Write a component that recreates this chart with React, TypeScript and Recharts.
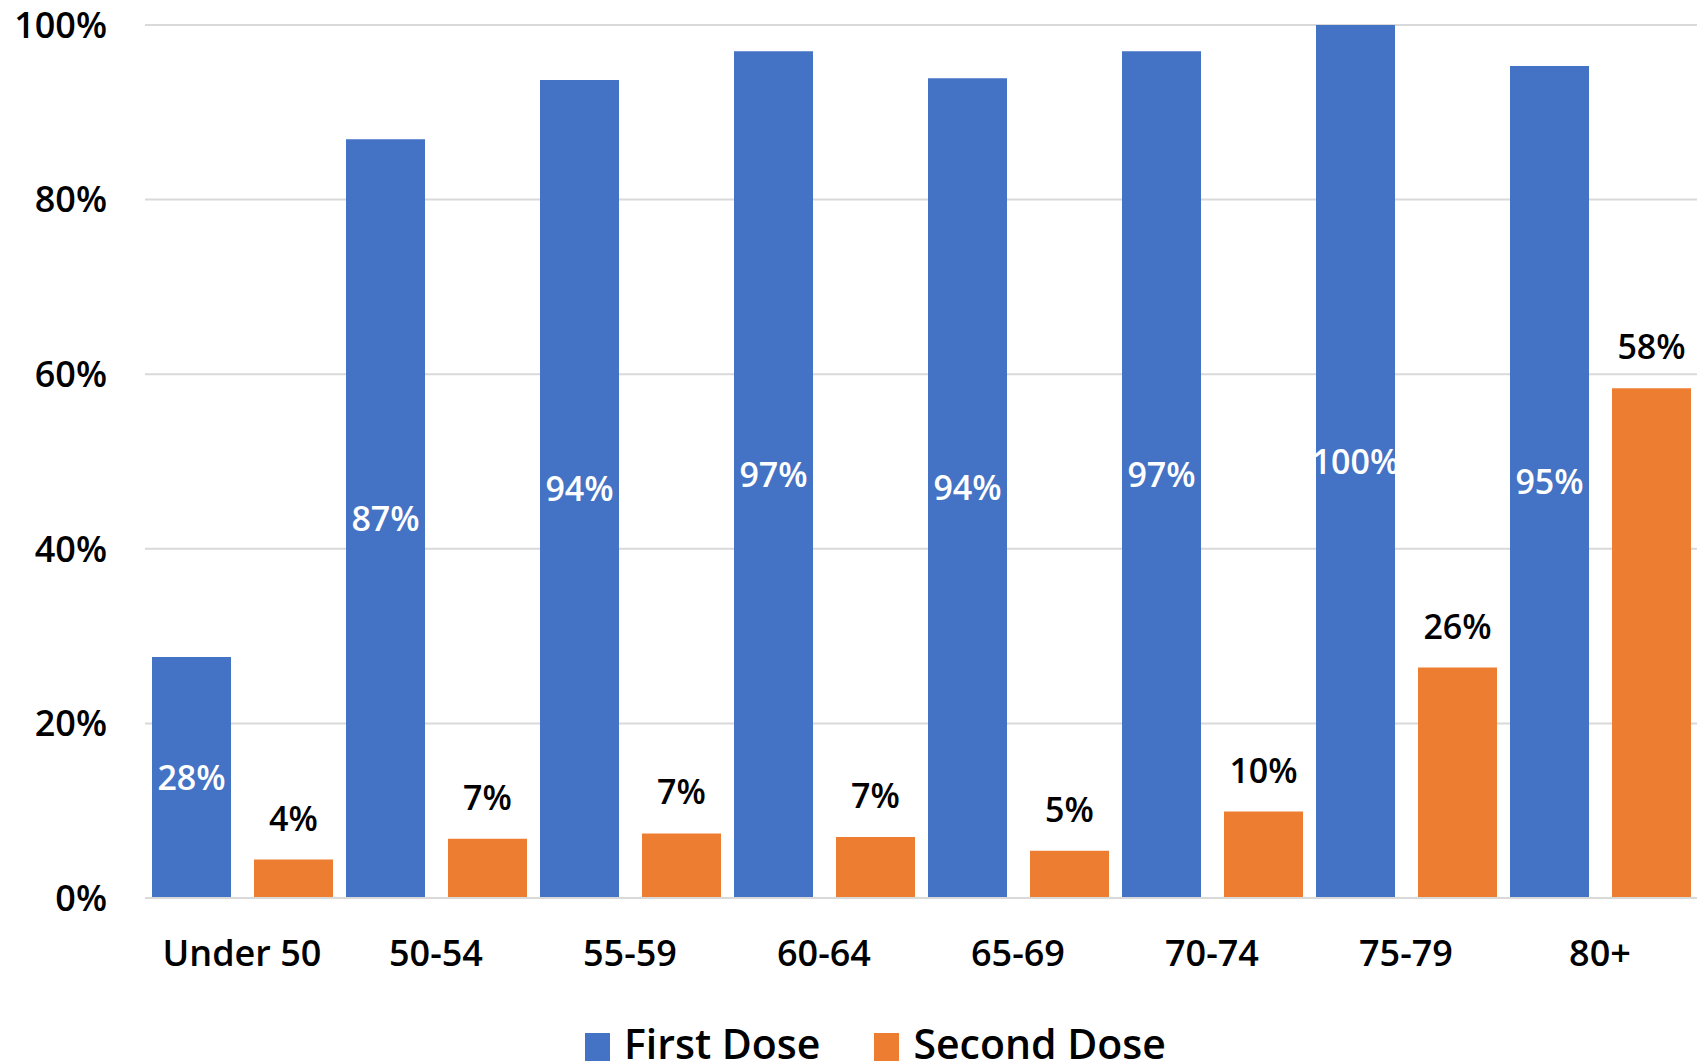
import React from 'react';
import { BarChart, Bar, XAxis, YAxis, CartesianGrid, Legend, LabelList } from 'recharts';

const groups = ['Under 50', '50-54', '55-59', '60-64', '65-69', '70-74', '75-79', '80+'];
const firstDose = [27.6, 86.9, 93.7, 97.0, 93.9, 97.0, 100, 95.3];
const secondDose = [4.4, 6.8, 7.4, 7.0, 5.4, 9.9, 26.4, 58.4];
const yTicks = [0, 20, 40, 60, 80, 100];

const BLUE = '#4472C4';
const ORANGE = '#ED7D31';
const FONT = '"Open Sans", "Noto Sans", sans-serif';

const data = groups.map((group, i) => ({
  group,
  first: firstDose[i],
  second: secondDose[i],
}));

const pct = (v: any) => `${Math.round(Number(v))}%`;

const LegendBox = () => (
  <div
    style={{
      display: 'flex',
      alignItems: 'flex-end',
      height: 66,
      paddingLeft: 585,
      boxSizing: 'border-box',
      fontFamily: FONT,
      fontSize: 41,
      fontWeight: 600,
      color: '#000',
      lineHeight: 1,
    }}
  >
    {[
      { name: 'First Dose', color: BLUE },
      { name: 'Second Dose', color: ORANGE },
    ].map((item) => (
      <div key={item.name} style={{ display: 'flex', alignItems: 'flex-end', marginRight: 54 }}>
        <span
          style={{
            display: 'inline-block',
            width: 25,
            height: 28,
            background: item.color,
            marginRight: 14,
            marginBottom: 3,
          }}
        />
        <span>{item.name}</span>
      </div>
    ))}
  </div>
);

export default function App() {
  return (
    <div style={{ position: 'absolute', left: 0, top: 0 }}>
      <BarChart
        width={1704}
        height={1064}
        data={data}
        margin={{ top: 25, right: 7, left: 0, bottom: 0 }}
        barSize={79}
        barGap={23}
        style={{ fontFamily: FONT }}
      >
        <CartesianGrid vertical={false} stroke="#D9D9D9" strokeWidth={2} />
        <XAxis
          dataKey="group"
          height={100}
          tickLine={false}
          axisLine={{ stroke: '#D9D9D9', strokeWidth: 2 }}
          tickMargin={36}
          tick={{ fill: '#000', fontSize: 36, fontWeight: 600 }}
        />
        <YAxis
          width={145}
          domain={[0, 100]}
          ticks={yTicks}
          tickFormatter={(v) => `${v}%`}
          tickLine={false}
          axisLine={false}
          tickMargin={32}
          tick={{ fill: '#000', fontSize: 36, fontWeight: 600 }}
        />
        <Legend verticalAlign="bottom" wrapperStyle={{ left: 0, width: 1704, height: 66 }} content={<LegendBox />} />
        <Bar dataKey="first" name="First Dose" fill={BLUE} isAnimationActive={false}>
          <LabelList dataKey="first" position="center" formatter={pct} fill="#fff" fontSize={34} fontWeight={600} />
        </Bar>
        <Bar dataKey="second" name="Second Dose" fill={ORANGE} isAnimationActive={false}>
          <LabelList dataKey="second" position="top" offset={29} formatter={pct} fill="#000" fontSize={34} fontWeight={600} />
        </Bar>
      </BarChart>
    </div>
  );
}
